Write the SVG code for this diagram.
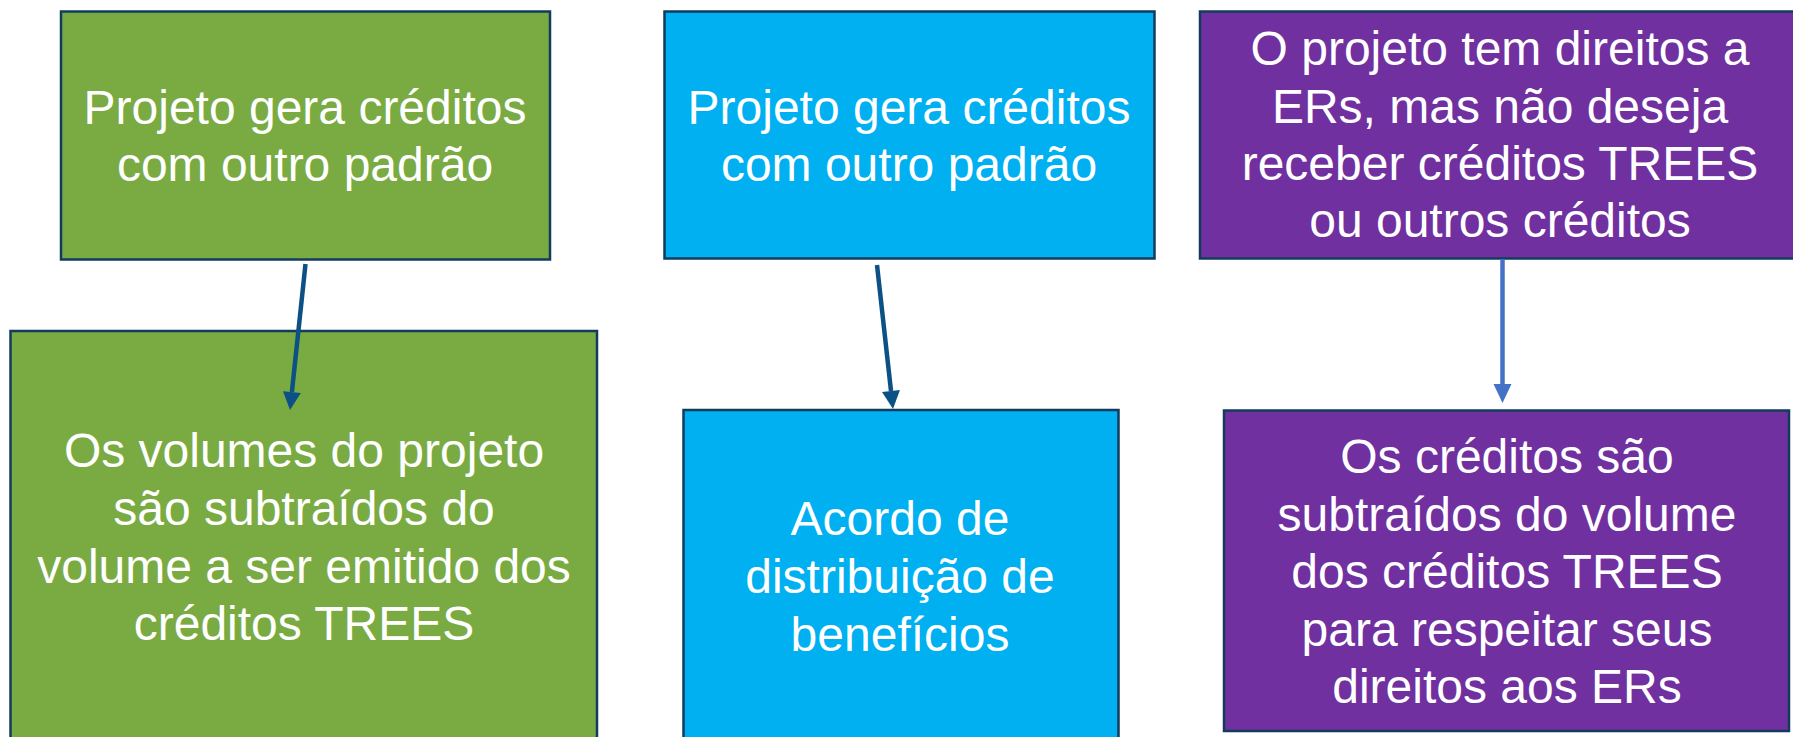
<svg xmlns="http://www.w3.org/2000/svg" width="1793" height="737" viewBox="0 0 1793 737">
<style>
.box{stroke:#123B5E;stroke-width:2.5}
.g{fill:#7AAB43}
.b{fill:#00B0F0}
.p{fill:#7030A0}
.t{font-family:"Liberation Sans",Arial,sans-serif;font-size:48px;fill:#FFFFFF;text-anchor:middle}
.c1{stroke:#0B5185;stroke-width:4.5;fill:none}
.c2{stroke:#4472C4;stroke-width:4.5;fill:none}
</style>
<defs>
<marker id="ahDark" markerUnits="userSpaceOnUse" markerWidth="18" markerHeight="18" refX="0" refY="9" orient="auto" overflow="visible">
<path d="M0,0 L18,9 L0,18 z" fill="#0B5185"/>
</marker>
<marker id="ahLight" markerUnits="userSpaceOnUse" markerWidth="19" markerHeight="18" refX="0" refY="9" orient="auto" overflow="visible">
<path d="M0,0 L19,9 L0,18 z" fill="#4472C4"/>
</marker>
</defs>
<rect width="1793" height="737" fill="#FFFFFF"/>

<g id="node-green-top">
<rect class="box g" x="61" y="11.5" width="489" height="248"/>
<text class="t" x="305" y="124">Projeto gera créditos</text>
<text class="t" x="305" y="181">com outro padrão</text>
</g>

<g id="node-green-bottom">
<rect class="box g" x="10.5" y="331" width="586.5" height="420"/>
<text class="t" x="304" y="467">Os volumes do projeto</text>
<text class="t" x="304" y="525">são subtraídos do</text>
<text class="t" x="304" y="583">volume a ser emitido dos</text>
<text class="t" x="304" y="640">créditos TREES</text>
</g>

<g id="node-blue-top">
<rect class="box b" x="664.5" y="11.5" width="490" height="247"/>
<text class="t" x="909" y="124">Projeto gera créditos</text>
<text class="t" x="909" y="181">com outro padrão</text>
</g>

<g id="node-blue-bottom">
<rect class="box b" x="683.5" y="410" width="435" height="340"/>
<text class="t" x="900" y="535">Acordo de</text>
<text class="t" x="900" y="593">distribuição de</text>
<text class="t" x="900" y="651">benefícios</text>
</g>

<g id="node-purple-top">
<rect class="box p" x="1200" y="11.5" width="605" height="247"/>
<text class="t" x="1500" y="65">O projeto tem direitos a</text>
<text class="t" x="1500" y="123">ERs, mas não deseja</text>
<text class="t" x="1500" y="180">receber créditos TREES</text>
<text class="t" x="1500" y="237">ou outros créditos</text>
</g>

<g id="node-purple-bottom">
<rect class="box p" x="1224" y="410.5" width="565" height="320.5"/>
<text class="t" x="1507" y="473">Os créditos são</text>
<text class="t" x="1507" y="531">subtraídos do volume</text>
<text class="t" x="1507" y="588">dos créditos TREES</text>
<text class="t" x="1507" y="646">para respeitar seus</text>
<text class="t" x="1507" y="703">direitos aos ERs</text>
</g>

<g id="connectors">
<line class="c1" x1="305.5" y1="264" x2="291.9" y2="392.1" marker-end="url(#ahDark)"/>
<line class="c1" x1="877" y1="265" x2="891" y2="391.1" marker-end="url(#ahDark)"/>
<line class="c2" x1="1502.5" y1="259" x2="1502.5" y2="384" marker-end="url(#ahLight)"/>
</g>
</svg>
